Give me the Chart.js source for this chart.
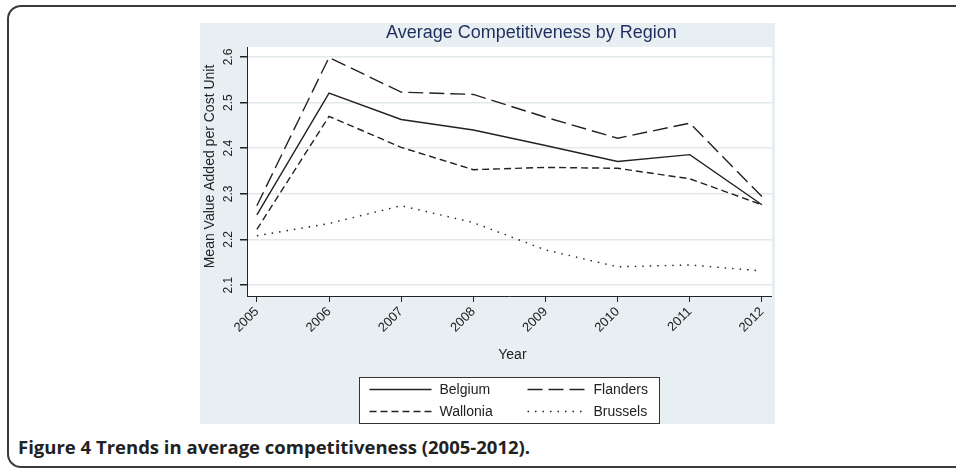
<!DOCTYPE html>
<html>
<head>
<meta charset="utf-8">
<script src="https://cdn.jsdelivr.net/npm/chart.js@4.4.1/dist/chart.umd.min.js"></script>
<style>
  html, body { margin: 0; padding: 0; background: #fff; width: 956px; height: 469px; overflow: hidden; }
  .frame { position: absolute; left: 7px; top: 5px; width: 1000px; height: 459px; border: 2px solid #3a3a3a; border-radius: 14px; }
  .wrap { position: absolute; left: 200px; top: 23px; width: 575px; height: 401px; background: #e8eff2; }
  .caption { position: absolute; left: 18px; top: 434px; font-family: "Open Sans", sans-serif; font-weight: 700; font-size: 18.5px; color: #222; }
</style>
</head>
<body>
<div class="frame"></div>
<div class="wrap"><canvas id="myChart" width="575" height="401"></canvas></div>
<div class="caption">Figure 4 Trends in average competitiveness (2005-2012).</div>
<script>
const years = [2005, 2006, 2007, 2008, 2009, 2010, 2011, 2012];
const belgium = [2.254, 2.521, 2.463, 2.440, 2.406, 2.371, 2.386, 2.276];
const flanders = [2.274, 2.599, 2.523, 2.518, 2.468, 2.422, 2.455, 2.294];
const wallonia = [2.222, 2.470, 2.402, 2.353, 2.358, 2.356, 2.333, 2.276];
const brussels = [2.208, 2.235, 2.274, 2.237, 2.177, 2.140, 2.144, 2.131];
const yTicks = [2.1, 2.2, 2.3, 2.4, 2.5, 2.6];
const names = ['Belgium', 'Flanders', 'Wallonia', 'Brussels'];

const ink = '#222';
const dashes = [[], [15, 6], [7, 4], [1.5, 6]];
const font = '"Liberation Sans", Arial, sans-serif';

const ctx = document.querySelector('#myChart').getContext('2d');

function series(vals, i) {
    return {
        label: names[i],
        data: years.map((y, k) => ({ x: y, y: vals[k] })),
        borderColor: ink,
        borderWidth: 1.4,
        borderDash: dashes[i],
        pointRadius: 0,
        tension: 0,
        fill: false,
    };
}

// white plot region, title, rotated y labels, axis titles and legend box
const extras = {
    id: 'extras',
    beforeDraw(chart) {
        const a = chart.chartArea;
        const c = chart.ctx;
        c.save();
        c.fillStyle = '#fff';
        c.fillRect(a.left, a.top, a.right - a.left, a.bottom - a.top);
        c.restore();
    },
    afterDraw(chart) {
        const a = chart.chartArea;
        const c = chart.ctx;
        const ys = chart.scales.y;
        const mid = (a.left + a.right) / 2;
        c.save();
        c.fillStyle = '#1f2e5e';
        c.font = '18px ' + font;
        c.textAlign = 'center';
        c.textBaseline = 'alphabetic';
        c.fillText('Average Competitiveness by Region', mid + 22, 15);

        c.fillStyle = ink;
        c.font = '12px ' + font;
        yTicks.forEach(v => {
            c.save();
            c.translate(32, ys.getPixelForValue(v));
            c.rotate(-Math.PI / 2);
            c.textAlign = 'center';
            c.textBaseline = 'alphabetic';
            c.fillText(v.toFixed(1), 0, 0);
            c.restore();
        });

        c.font = '14px ' + font;
        c.save();
        c.translate(14, (a.top + a.bottom) / 2 - 5);
        c.rotate(-Math.PI / 2);
        c.textAlign = 'center';
        c.fillText('Mean Value Added per Cost Unit', 0, 0);
        c.restore();

        c.textAlign = 'center';
        c.fillText('Year', mid + 3, 336);

        // legend
        const bw = 300, bh = 46;
        const bx = Math.round(mid - bw / 2) + 0.5, by = 354.5;
        c.fillStyle = '#fff';
        c.fillRect(bx, by, bw, bh);
        c.strokeStyle = '#333';
        c.lineWidth = 1;
        c.setLineDash([]);
        c.strokeRect(bx, by, bw, bh);
        const cols = [[bx + 10, bx + 72, bx + 80], [bx + 168, bx + 228, bx + 234]];
        const rows = [by + 12, by + 34];
        names.forEach((n, i) => {
            const col = cols[i % 2], row = rows[Math.floor(i / 2)];
            c.strokeStyle = ink;
            c.lineWidth = 1.4;
            c.setLineDash(dashes[i]);
            c.beginPath();
            c.moveTo(col[0], row);
            c.lineTo(col[1], row);
            c.stroke();
            c.setLineDash([]);
            c.fillStyle = ink;
            c.textAlign = 'left';
            c.textBaseline = 'middle';
            c.fillText(n, col[2], row + 1);
        });
        c.restore();
    }
};

const data = {
    datasets: [series(belgium, 0), series(flanders, 1), series(wallonia, 2), series(brussels, 3)],
};

const config = {
    type: 'line',
    data: data,
    options: {
        responsive: false,
        animation: false,
        layout: { padding: { top: 24, right: 2, left: 0, bottom: 0 } },
        plugins: { legend: { display: false }, tooltip: { enabled: false } },
        scales: {
            x: {
                type: 'linear',
                min: 2004.863,
                max: 2012.137,
                afterBuildTicks: s => { s.ticks = years.map(v => ({ value: v })); },
                afterFit: s => { s.height = 128; },
                ticks: {
                    autoSkip: false,
                    maxRotation: 45,
                    minRotation: 45,
                    padding: 2,
                    color: ink,
                    font: { family: font, size: 13 },
                    callback: v => String(v),
                },
                grid: { drawOnChartArea: false, tickLength: 6, tickColor: ink },
                border: { color: ink, width: 1 },
            },
            y: {
                min: 2.076,
                max: 2.622,
                afterBuildTicks: s => { s.ticks = yTicks.map(v => ({ value: v })); },
                afterFit: s => { s.width = 47; },
                ticks: { display: false },
                grid: { color: '#e1e9ed', lineWidth: 1.5, tickLength: 7, tickColor: ink },
                border: { color: ink, width: 1 },
            }
        }
    },
    plugins: [extras],
};

const myChart = new Chart(ctx, config);
</script>
</body>
</html>
